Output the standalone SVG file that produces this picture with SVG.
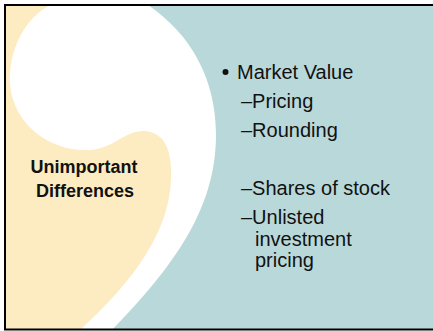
<svg xmlns="http://www.w3.org/2000/svg" width="433" height="331" viewBox="0 0 433 331">
<style>
.t{font-family:"Liberation Sans",Arial,sans-serif;font-size:20px;fill:#111}
.b{font-family:"Liberation Sans",Arial,sans-serif;font-size:18px;font-weight:bold;fill:#111;text-anchor:middle}
</style>
<g id="background">
<rect x="5" y="5" width="440" height="325" fill="#B9D8DA"/>
<path id="yellow" d="M5,5 L147,5 C190,35 215,80 215,135 C215,210 170,270 110,330 L5,330 Z" fill="#FDECC2"/>
<path id="comma" d="M50,5 C25,18 8,50 10,85 C14,125 50,152 90,150 C115,148 125,130 145,131 C165,133 172,150 171,178 C170,230 135,280 80,330 L112,330 C172,268 216,210 216,135 C216,80 192,35 148,5 Z" fill="#FFFFFF"/>
<rect x="5" y="5" width="440" height="324.5" fill="none" stroke="#000" stroke-width="2"/>
</g>
<g id="left-label">
<text class="b" x="84" y="173">Unimportant</text>
<text class="b" x="85" y="197">Differences</text>
</g>
<g id="right-list">
<circle cx="225.5" cy="72" r="3" fill="#111"/>
<text class="t" x="237" y="79">Market Value</text>
<text class="t" x="241" y="108">–Pricing</text>
<text class="t" x="241" y="136.5">–Rounding</text>
<text class="t" x="241" y="195">–Shares of stock</text>
<text class="t" x="241" y="224">–Unlisted</text>
<text class="t" x="255" y="246">investment</text>
<text class="t" x="255" y="267">pricing</text>
</g>
</svg>
